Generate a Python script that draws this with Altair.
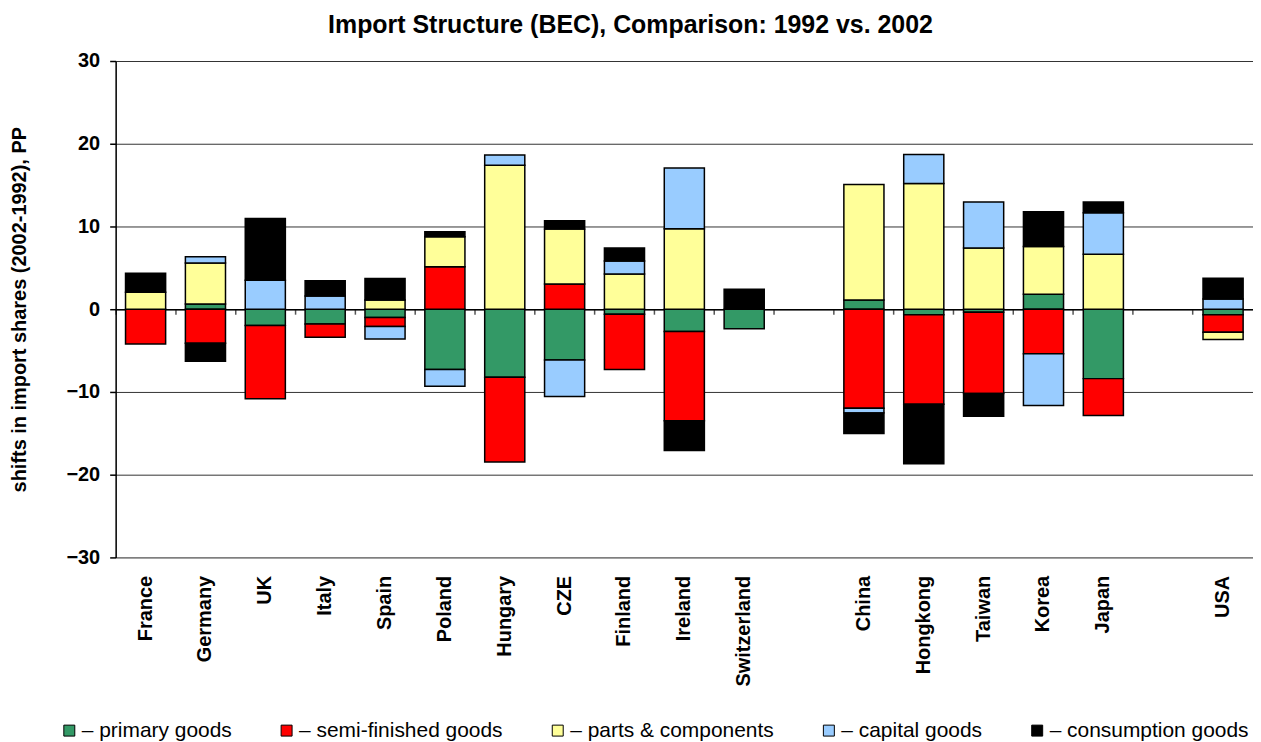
import altair as alt
import pandas as pd

countries = ["France", "Germany", "UK", "Italy", "Spain", "Poland", "Hungary", "CZE",
             "Finland", "Ireland", "Switzerland", "China", "Hongkong", "Taiwan",
             "Korea", "Japan", "USA"]
slots = ["France", "Germany", "UK", "Italy", "Spain", "Poland", "Hungary", "CZE",
         "Finland", "Ireland", "Switzerland", " ", "China", "Hongkong", "Taiwan",
         "Korea", "Japan", "  ", "USA"]
series = ["primary goods", "semi-finished goods", "parts & components",
          "capital goods", "consumption goods"]
colors = ["#339966", "#FF0000", "#FFFF99", "#99CCFF", "#000000"]

primary =     [0.0, 0.64, -1.97, -1.8, -1.0, -7.3, -8.23, -6.14, -0.6, -2.69, -2.37,
               1.12, -0.68, -0.36, 1.81, -8.39, -0.68]
semi =        [-4.2, -4.1, -8.85, -1.6, -1.1, 5.14, -10.24, 3.05, -6.7, -10.8, 0.0,
               -11.97, -10.8, -9.84, -5.38, -4.46, -2.09]
parts =       [2.05, 4.96, 0.0, 0.0, 1.12, 3.62, 17.39, 6.63, 4.26, 9.72, 0.0,
               13.94, 15.18, 7.39, 5.78, 6.63, -0.88]
capital =     [0.0, 0.74, 3.49, 1.6, -1.5, -2.0, 1.24, -4.42, 1.56, 7.35, 0.0,
               -0.56, 3.53, 5.58, -6.27, 5.02, 1.24]
consumption = [2.3, -2.2, 7.47, 1.85, 2.6, 0.6, 0.0, 1.0, 1.57, -3.58, 2.41,
               -2.49, -7.19, -2.73, 4.18, 1.32, 2.49]

rows = []
for i, c in enumerate(countries):
    for k, vals in enumerate([primary, semi, parts, capital, consumption]):
        v = vals[i]
        if v != 0:
            rows.append({"country": c, "series": series[k], "order": k, "value": v})
df = pd.DataFrame(rows)

FONT = "Liberation Sans"
xscale = alt.Scale(domain=slots, paddingInner=0, paddingOuter=0)

bars = alt.Chart(df).mark_bar(
    width={"band": 0.67}, stroke="black", strokeWidth=1.5
).encode(
    x=alt.X("country:N", scale=xscale,
            axis=alt.Axis(title=None, labelAngle=270, ticks=False, tickSize=0,
                          domain=False, grid=False, labelFont=FONT, labelFontSize=20,
                          labelFontWeight="bold", labelColor="black", labelPadding=18,
                          orient="bottom")),
    y=alt.Y("value:Q", stack="zero",
            scale=alt.Scale(domain=[-30, 30], nice=False),
            axis=alt.Axis(values=[-30, -20, -10, 0, 10, 20, 30],
                          title="shifts in import shares (2002-1992), PP",
                          titleFont=FONT, titleFontSize=20, titleFontWeight="bold",
                          titleColor="black", titlePadding=37,
                          labelFont=FONT, labelFontSize=20, labelFontWeight="bold",
                          labelColor="black", labelPadding=10,
                          tickSize=6, tickColor="black", tickWidth=1.5,
                          domainColor="black", domainWidth=1.5,
                          grid=True, gridColor="#333333", gridWidth=1)),
    color=alt.Color("series:N", scale=alt.Scale(domain=series, range=colors),
                    legend=alt.Legend(title=None, orient="none", legendX=-57, legendY=661,
                                      direction="horizontal", symbolType="square",
                                      symbolSize=121, symbolStrokeColor="black",
                                      symbolStrokeWidth=1, symbolOpacity=1,
                                      labelFont=FONT, labelFontSize=21, labelColor="black",
                                      labelExpr="'– ' + datum.label", labelOffset=2,
                                      labelLimit=400, columnPadding=44)),
    order=alt.Order("order:Q", sort="ascending"),
)

zero_axis = alt.Chart(pd.DataFrame({"country": slots})).mark_rule(opacity=0).encode(
    x=alt.X("country:N", scale=xscale,
            axis=alt.Axis(orient="bottom", offset=-249, labels=False, title=None,
                          domainColor="black", domainWidth=1.5, ticks=True,
                          tickColor="#555555", tickSize=5, tickWidth=1.5,
                          bandPosition=0, grid=False))
)

chart = alt.layer(bars, zero_axis).resolve_axis(x="independent").properties(
    width=1141, height=498,
    autosize=alt.AutoSizeParams(type="none"),
    padding={"left": 108, "top": 52, "right": 0, "bottom": 184},
    title=alt.TitleParams(text="Import Structure (BEC), Comparison: 1992 vs. 2002",
                          font=FONT, fontSize=25, fontWeight="bold", color="black",
                          anchor="middle", frame="group", dx=-54, offset=13),
    background="white",
).configure_view(stroke="#404040", strokeWidth=1).configure(font=FONT)

chart.save("out.html", embed_options={"renderer": "svg", "actions": False})
